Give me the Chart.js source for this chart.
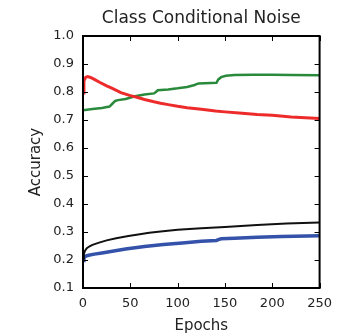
<!DOCTYPE html>
<html>
<head>
<meta charset="utf-8">
<script src="https://cdn.jsdelivr.net/npm/chart.js@4.4.1/dist/chart.umd.min.js"></script>
<style>
  html, body { margin: 0; padding: 0; background: #fff; }
  #wrap { width: 340px; height: 335px; }
</style>
</head>
<body>
<div id="wrap"><canvas id="chart" width="340" height="335"></canvas></div>
<script>
// values
const chartTitle = 'Class Conditional Noise';
const xTicks = [0, 50, 100, 150, 200, 250];
const yTicks = [0.1, 0.2, 0.3, 0.4, 0.5, 0.6, 0.7, 0.8, 0.9, 1.0];

const redEpochs = [0, 1, 3, 5, 8, 12, 18, 25, 31, 40, 50, 57, 65, 75, 82, 90, 100, 110, 125, 140, 150, 165, 184, 200, 220, 235, 250];
const redAcc = [0.796, 0.84, 0.853, 0.855, 0.852, 0.845, 0.834, 0.822, 0.813, 0.798, 0.787, 0.781, 0.773, 0.765, 0.760, 0.755, 0.749, 0.744, 0.738, 0.732, 0.729, 0.725, 0.720, 0.717, 0.711, 0.708, 0.705];

const greenEpochs = [0, 10, 20, 28, 31, 34, 37, 45, 55, 65, 75, 77, 79, 90, 100, 110, 118, 120, 122, 135, 141, 143, 146, 151, 160, 180, 200, 220, 250];
const greenAcc = [0.735, 0.739, 0.743, 0.748, 0.758, 0.768, 0.771, 0.775, 0.785, 0.791, 0.795, 0.800, 0.806, 0.809, 0.813, 0.818, 0.825, 0.828, 0.830, 0.832, 0.833, 0.845, 0.853, 0.858, 0.861, 0.862, 0.862, 0.861, 0.860];

const blackEpochs = [0, 1, 2, 4, 7, 10, 17, 25, 35, 48, 60, 70, 82, 100, 125, 150, 184, 215, 250];
const blackAcc = [0.205, 0.222, 0.232, 0.242, 0.249, 0.254, 0.262, 0.270, 0.278, 0.286, 0.292, 0.297, 0.302, 0.308, 0.313, 0.318, 0.325, 0.330, 0.334];

const blueEpochs = [0, 1, 3, 6, 12, 20, 31, 45, 65, 85, 105, 125, 141, 143, 146, 160, 184, 210, 250];
const blueAcc = [0.198, 0.208, 0.214, 0.217, 0.221, 0.225, 0.231, 0.239, 0.248, 0.255, 0.261, 0.267, 0.270, 0.273, 0.276, 0.278, 0.281, 0.284, 0.287];

function pts(xs, ys) {
    return xs.map((x, i) => ({ x: x, y: ys[i] }));
}

function line(data, color, width) {
    return {
        data: data,
        borderColor: color,
        borderWidth: width,
        pointRadius: 0,
        fill: false,
        tension: 0
    };
}

const font = 'DejaVu Sans';
const textColor = '#222';

// frame + inward ticks on all four sides, title centred over the plot
const framePlugin = {
    id: 'frame',
    afterDatasetsDraw(chart) {
        const ctx = chart.ctx;
        const a = chart.chartArea;
        const xs = chart.scales.x, ys = chart.scales.y;
        ctx.save();
        ctx.strokeStyle = '#000';
        ctx.lineWidth = 1;
        ctx.beginPath();
        xTicks.forEach(v => {
            const px = Math.round(xs.getPixelForValue(v)) + 0.5;
            ctx.moveTo(px, a.bottom); ctx.lineTo(px, a.bottom - 5);
            ctx.moveTo(px, a.top); ctx.lineTo(px, a.top + 5);
        });
        yTicks.forEach(v => {
            const py = Math.round(ys.getPixelForValue(v)) + 0.5;
            ctx.moveTo(a.left, py); ctx.lineTo(a.left + 5, py);
            ctx.moveTo(a.right, py); ctx.lineTo(a.right - 5, py);
        });
        ctx.stroke();
        ctx.lineWidth = 2;
        ctx.strokeRect(a.left, a.top, a.right - a.left, a.bottom - a.top);

        ctx.fillStyle = textColor;
        ctx.font = '17px "' + font + '"';
        ctx.textAlign = 'center';
        ctx.textBaseline = 'middle';
        ctx.fillText(chartTitle, (a.left + a.right) / 2, 19);
        ctx.restore();
    }
};

const ctx = document.getElementById('chart').getContext('2d');

new Chart(ctx, {
    type: 'line',
    data: {
        datasets: [
            line(pts(redEpochs, redAcc), '#ee2b2b', 3),
            line(pts(greenEpochs, greenAcc), '#2a8a3c', 2.5),
            line(pts(blackEpochs, blackAcc), '#111111', 2),
            line(pts(blueEpochs, blueAcc), '#3452aa', 3.5)
        ]
    },
    options: {
        responsive: false,
        animation: false,
        layout: { padding: { left: 27, right: 13, top: 36, bottom: 0 } },
        plugins: {
            legend: { display: false },
            tooltip: { enabled: false },
            title: { display: false }
        },
        scales: {
            x: {
                type: 'linear',
                min: 0,
                max: 250,
                afterBuildTicks: s => { s.ticks = xTicks.map(v => ({ value: v })); },
                afterFit: s => { s.height = 47; },
                grid: { display: false, drawTicks: false },
                border: { display: false },
                ticks: {
                    color: textColor,
                    font: { family: font, size: 13 },
                    padding: 8,
                    maxRotation: 0,
                    callback: v => String(v)
                },
                title: {
                    display: true,
                    text: 'Epochs',
                    color: textColor,
                    font: { family: font, size: 15 },
                    padding: 0
                }
            },
            y: {
                min: 0.1,
                max: 1.0,
                afterBuildTicks: s => { s.ticks = yTicks.map(v => ({ value: v })); },
                afterFit: s => { s.width = 56; },
                grid: { display: false, drawTicks: false },
                border: { display: false },
                ticks: {
                    color: textColor,
                    font: { family: font, size: 13 },
                    padding: 9,
                    callback: v => Number(v).toFixed(1)
                },
                title: {
                    display: true,
                    text: 'Accuracy',
                    color: textColor,
                    font: { family: font, size: 15 },
                    padding: 0
                }
            }
        }
    },
    plugins: [framePlugin]
});
</script>
</body>
</html>
